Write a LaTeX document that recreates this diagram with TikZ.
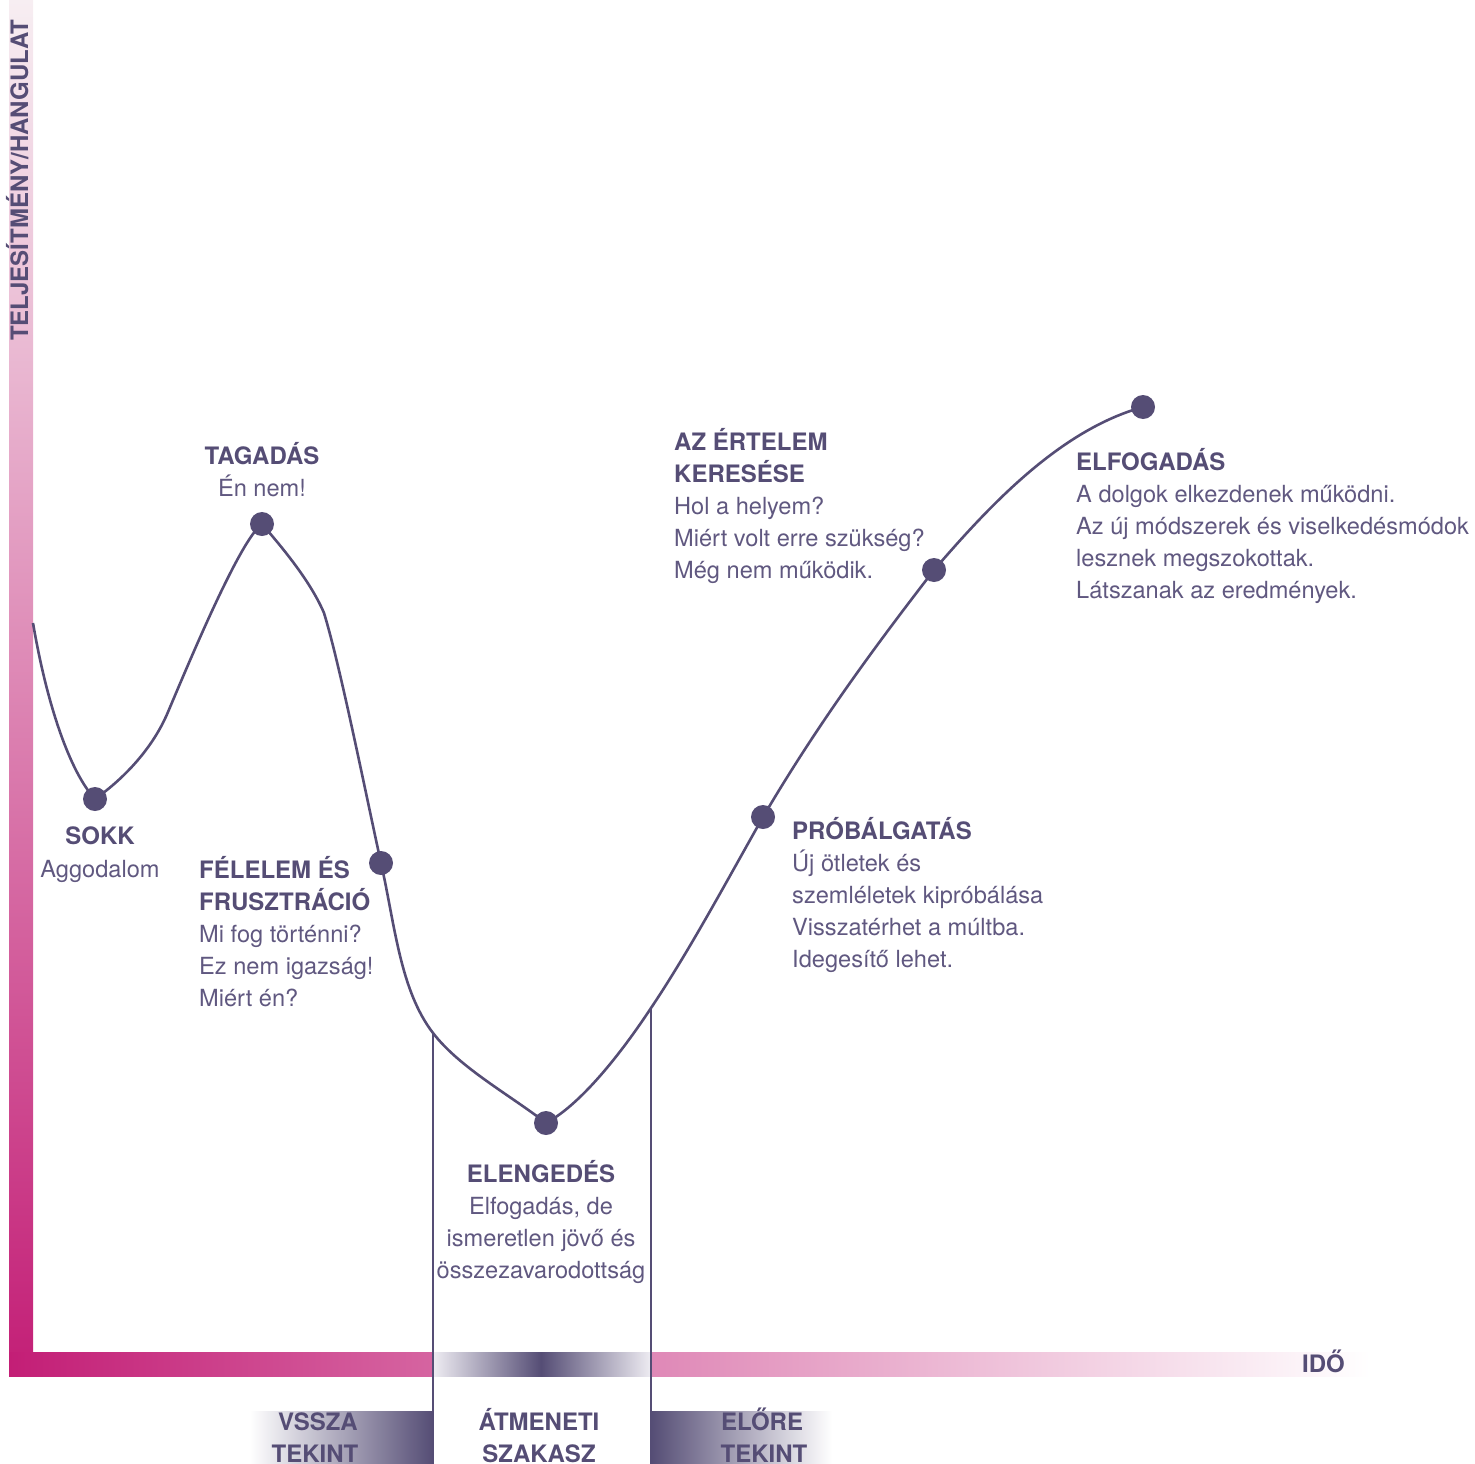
\documentclass[tikz,border=0pt]{standalone}
\usepackage{fontspec}
\setmainfont{TeX Gyre Heros}
\definecolor{ink}{RGB}{85,77,117}
\definecolor{inksoft}{RGB}{96,88,128}
\definecolor{axisdeep}{RGB}{195,30,118}
\definecolor{axistop}{RGB}{247,238,242}
\definecolor{fadegray}{RGB}{238,236,242}
\begin{document}
\begin{tikzpicture}[x=1pt,y=-1pt,
  head/.style={font=\bfseries\fontsize{24}{24}\selectfont, text=ink, inner sep=0pt},
  body/.style={font=\fontsize{23.6}{24}\selectfont, text=inksoft, inner sep=0pt},
  tag/.style={font=\bfseries\fontsize{24}{24}\selectfont, text=ink, inner sep=0pt},
  stagedot/.style={circle, fill=ink, minimum size=24pt, inner sep=0pt},
  curveline/.style={draw=ink, line width=2.6pt, line join=round},
  divider/.style={draw=ink, line width=2.6pt}]
\useasboundingbox (0,0) rectangle (1475,1464);

% axes
\shade[bottom color=axisdeep, top color=axistop] (9,0) rectangle (33,1376);
\shade[left color=axisdeep, right color=white] (9,1352) rectangle (1370,1376);
\shade[left color=fadegray, right color=ink] (433,1352) rectangle (541,1376);
\shade[left color=ink, right color=fadegray] (541,1352) rectangle (651,1376);

% phase boxes under the time axis
\shade[left color=white, right color=ink] (250,1411) rectangle (433,1464);
\shade[left color=ink, right color=white] (651,1411) rectangle (832,1464);

\node[head, rotate=90, anchor=base west] (ylabel) at (28,341) {TELJESÍTMÉNY/HANGULAT};
\node[head, anchor=base west] (xlabel) at (1302,1372) {IDŐ};

% stage positions
\coordinate (c-sokk) at (95,799);
\coordinate (c-tagadas) at (262,524);
\coordinate (c-felelem) at (381,863);
\coordinate (c-elengedes) at (546,1123);
\coordinate (c-probal) at (763,817);
\coordinate (c-ertelem) at (934,570);
\coordinate (c-elfogadas) at (1143,407);
\coordinate (c-start) at (33,623);
\coordinate (c-rise) at (168,712);
\coordinate (c-fall) at (324,613);
\coordinate (c-leftcut) at (433,1033);
\coordinate (c-rightcut) at (651,1008);
\coordinate (c-leftfoot) at (433,1464);
\coordinate (c-rightfoot) at (651,1464);

% phase dividers
\draw[divider] (c-leftcut) -- (c-leftfoot);
\draw[divider] (c-rightcut) -- (c-rightfoot);

% change curve
\draw[curveline]
  (c-start) .. controls (47,705) and (70,772) .. (c-sokk)
  .. controls (115,785) and (150,755) .. (c-rise)
  .. controls (190,660) and (240,540) .. (c-tagadas)
  .. controls (280,545) and (310,580) .. (c-fall)
  .. controls (340,665) and (365,790) .. (c-felelem)
  .. controls (395,925) and (400,990) .. (c-leftcut)
  .. controls (460,1068) and (510,1095) .. (c-elengedes)
  .. controls (580,1105) and (620,1055) .. (c-rightcut)
  .. controls (690,950) and (730,875) .. (c-probal)
  .. controls (820,720) and (880,640) .. (c-ertelem)
  .. controls (990,505) and (1060,430) .. (c-elfogadas);

\foreach \s in {sokk,tagadas,felelem,elengedes,probal,ertelem,elfogadas}
  \node[stagedot] (d-\s) at (c-\s) {};

% SOKK
\node[head, anchor=base] (sokk-h) at (100,844) {SOKK};
\node[body, anchor=base] (sokk-1) at (100,877) {Aggodalom};

% TAGADÁS
\node[head, anchor=base] (tag-h) at (262,464) {TAGADÁS};
\node[body, anchor=base] (tag-1) at (262,496) {Én nem!};

% FÉLELEM ÉS FRUSZTRÁCIÓ
\node[head, anchor=base west] (fel-h1) at (199,878) {FÉLELEM ÉS};
\node[head, anchor=base west] (fel-h2) at (199,910) {FRUSZTRÁCIÓ};
\node[body, anchor=base west] (fel-1) at (199,942) {Mi fog történni?};
\node[body, anchor=base west] (fel-2) at (199,974) {Ez nem igazság!};
\node[body, anchor=base west] (fel-3) at (199,1006) {Miért én?};

% ELENGEDÉS
\node[head, anchor=base] (ele-h) at (541,1182) {ELENGEDÉS};
\node[body, anchor=base] (ele-1) at (541,1214) {Elfogadás, de};
\node[body, anchor=base] (ele-2) at (541,1246) {ismeretlen jövő és};
\node[body, anchor=base] (ele-3) at (541,1278) {összezavarodottság};

% PRÓBÁLGATÁS
\node[head, anchor=base west] (pro-h) at (792,839) {PRÓBÁLGATÁS};
\node[body, anchor=base west] (pro-1) at (792,871) {Új ötletek és};
\node[body, anchor=base west] (pro-2) at (792,903) {szemléletek kipróbálása};
\node[body, anchor=base west] (pro-3) at (792,935) {Visszatérhet a múltba.};
\node[body, anchor=base west] (pro-4) at (792,967) {Idegesítő lehet.};

% AZ ÉRTELEM KERESÉSE
\node[head, anchor=base west] (ert-h1) at (674,450) {AZ ÉRTELEM};
\node[head, anchor=base west] (ert-h2) at (674,482) {KERESÉSE};
\node[body, anchor=base west] (ert-1) at (674,514) {Hol a helyem?};
\node[body, anchor=base west] (ert-2) at (674,546) {Miért volt erre szükség?};
\node[body, anchor=base west] (ert-3) at (674,578) {Még nem működik.};

% ELFOGADÁS
\node[head, anchor=base west] (elf-h) at (1076,470) {ELFOGADÁS};
\node[body, anchor=base west] (elf-1) at (1076,502) {A dolgok elkezdenek működni.};
\node[body, anchor=base west] (elf-2) at (1076,534) {Az új módszerek és viselkedésmódok};
\node[body, anchor=base west] (elf-3) at (1076,566) {lesznek megszokottak.};
\node[body, anchor=base west] (elf-4) at (1076,598) {Látszanak az eredmények.};

% phase labels
\node[tag, anchor=base] (back-1) at (318,1430) {VSSZA};
\node[tag, anchor=base] (back-2) at (315,1462) {TEKINT};
\node[tag, anchor=base] (mid-1) at (539,1430) {ÁTMENETI};
\node[tag, anchor=base] (mid-2) at (539,1462) {SZAKASZ};
\node[tag, anchor=base] (fwd-1) at (762,1430) {ELŐRE};
\node[tag, anchor=base] (fwd-2) at (764,1462) {TEKINT};
\end{tikzpicture}
\end{document}
